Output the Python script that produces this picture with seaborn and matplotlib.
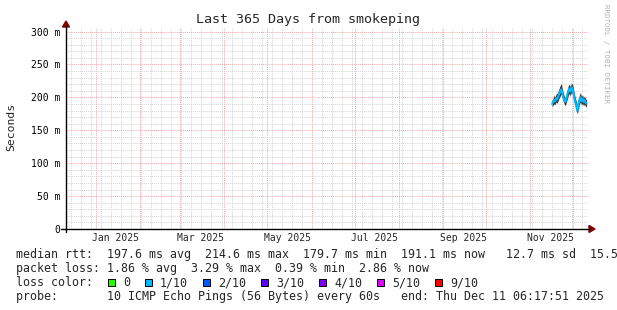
import numpy as np
import pandas as pd
import matplotlib
matplotlib.use("Agg")
import matplotlib.pyplot as plt
import matplotlib.dates as mdates
from matplotlib.lines import Line2D
from matplotlib.patches import Rectangle, Polygon
from matplotlib.ticker import FixedLocator, FuncFormatter, MultipleLocator
from matplotlib.transforms import blended_transform_factory
import seaborn as sns

# ---------------- data ----------------
title = "Last 365 Days from smokeping"
y_label = "Seconds"
watermark = "RRDTOOL / TOBI OETIKER"
range_start = "2024-12-11 06:17:51"
range_end = "2025-12-11 06:17:51"
data_start = "2025-11-16 04:00"
data_step = "17h"

median_ms = [190, 193, 196, 194, 199, 197, 201, 205, 209, 212, 206, 200, 196, 193, 198,
             204, 210, 213, 209, 215, 213, 207, 198, 192, 186, 180, 189, 197, 200, 194,
             198, 193, 196, 192, 191]
smoke_lo_ms = [185, 188, 190, 189, 193, 191, 195, 199, 202, 205, 200, 194, 190, 187, 192,
               197, 203, 206, 202, 208, 206, 200, 191, 185, 179, 175, 182, 190, 193, 188,
               191, 187, 190, 186, 186]
smoke_hi_ms = [196, 199, 203, 201, 205, 206, 209, 214, 218, 221, 214, 207, 202, 199, 205,
               211, 218, 220, 216, 222, 220, 214, 205, 199, 193, 188, 196, 204, 207, 201,
               204, 199, 202, 198, 196]

y_ticks_ms = [0, 50, 100, 150, 200, 250, 300]
x_label_months = ["2025-01-15", "2025-03-15", "2025-05-15", "2025-07-15", "2025-09-15", "2025-11-15"]
x_label_texts = ["Jan 2025", "Mar 2025", "May 2025", "Jul 2025", "Sep 2025", "Nov 2025"]

legend_median = "median rtt:  197.6 ms avg  214.6 ms max  179.7 ms min  191.1 ms now   12.7 ms sd  15.5"
legend_loss = "packet loss: 1.86 % avg  3.29 % max  0.39 % min  2.86 % now"
legend_color_title = "loss color:"
loss_labels = ["0", "1/10", "2/10", "3/10", "4/10", "5/10", "9/10"]
loss_colors = ["#26ff00", "#00b8ff", "#0059ff", "#5e00ff", "#7e00ff", "#dd00ff", "#ff0000"]
legend_probe = "probe:       10 ICMP Echo Pings (56 Bytes) every 60s   end: Thu Dec 11 06:17:51 2025"

median_color = loss_colors[1]

# ---------------- figure ----------------
W, H = 617, 310
sns.set_style("white")
plt.rcParams["font.family"] = ["DejaVu Sans Mono"]

fig = plt.figure(figsize=(W / 100, H / 100), dpi=100)
fig.patch.set_facecolor("white")


def fx(x):
    return x / W


def fy(y):
    return 1 - y / H


X0, X1 = 66, 588
Y0 = 229
YMAX = 0.306
Ytop = Y0 - YMAX / 0.3 * 197.5
ax = fig.add_axes([fx(X0), fy(Y0), (X1 - X0) / W, (Y0 - Ytop) / H])
ax.set_facecolor("white")

times = pd.date_range(data_start, periods=len(median_ms), freq=data_step)
df = pd.DataFrame({
    "time": times,
    "median": np.array(median_ms) / 1000.0,
    "lo": np.array(smoke_lo_ms) / 1000.0,
    "hi": np.array(smoke_hi_ms) / 1000.0,
})

ax.fill_between(df["time"], df["lo"], df["hi"], color="#3c3c3c", lw=0, zorder=3)
sns.lineplot(data=df, x="time", y="median", ax=ax, color=median_color, lw=1.5, zorder=4)

ax.set_xlim(pd.Timestamp(range_start), pd.Timestamp(range_end))
ax.set_ylim(0, YMAX)

# grid
ax.yaxis.set_major_locator(FixedLocator([v / 1000 for v in y_ticks_ms]))
ax.yaxis.set_minor_locator(MultipleLocator(0.01))
ax.yaxis.set_major_formatter(FuncFormatter(lambda v, p: "0" if v < 1e-9 else f"{int(round(v * 1000))} m"))

ax.xaxis.set_major_locator(mdates.MonthLocator())
ax.xaxis.set_minor_locator(mdates.WeekdayLocator(byweekday=mdates.SU))
ax.xaxis.set_major_formatter(FuncFormatter(lambda v, p: ""))

dot = (0, (1, 1))
ax.grid(True, which="minor", color="#d4d4d4", lw=0.7, ls=dot, zorder=0)
ax.grid(True, which="major", color="#f0a8a8", lw=0.7, ls=dot, zorder=1)
ax.set_axisbelow(True)

for s in ax.spines.values():
    s.set_visible(False)
ax.tick_params(axis="both", which="both", length=0)
ax.tick_params(axis="y", which="major", labelsize=7, pad=4, colors="black")
ax.set_xlabel("")
ax.set_ylabel("")

# x labels at mid-month
xt = blended_transform_factory(ax.transData, fig.transFigure)
for d, t in zip(x_label_months, x_label_texts):
    ax.text(mdates.date2num(pd.Timestamp(d)), fy(238), t, ha="center", va="center",
            fontsize=7, transform=xt, clip_on=False)

# axis lines with arrows
arrow_c = "#7f0000"
fig.add_artist(Line2D([fx(61), fx(589)], [fy(Y0), fy(Y0)], color="black", lw=1.0))
fig.add_artist(Line2D([fx(X0), fx(X0)], [fy(232), fy(26)], color="black", lw=1.0))
fig.add_artist(Polygon([[fx(589), fy(Y0 - 3.5)], [fx(589), fy(Y0 + 3.5)], [fx(595), fy(Y0)]],
                       closed=True, color=arrow_c, transform=fig.transFigure))
fig.add_artist(Polygon([[fx(X0 - 3.5), fy(27)], [fx(X0 + 3.5), fy(27)], [fx(X0), fy(21)]],
                       closed=True, color=arrow_c, transform=fig.transFigure))

# title / labels
fig.text(fx(308), fy(19), title, ha="center", va="center", fontsize=9.6)
fig.text(fx(11), fy(127), y_label, ha="center", va="center", rotation=90, fontsize=8.2)
fig.text(fx(606), fy(4), watermark, ha="center", va="top", rotation=270, fontsize=5.3, color="#b4b4b4")

# legend
LFS = 8.35
CW = 7.0
LX = 16.5
fig.text(fx(LX), fy(254.5), legend_median, ha="left", va="center", fontsize=LFS)
fig.text(fx(LX), fy(268.5), legend_loss, ha="left", va="center", fontsize=LFS)
fig.text(fx(LX), fy(282.5), legend_color_title, ha="left", va="center", fontsize=LFS)
fig.text(fx(LX), fy(296.5), legend_probe, ha="left", va="center", fontsize=LFS)

bx = 108.0
for lab, col in zip(loss_labels, loss_colors):
    fig.add_artist(Rectangle((fx(bx), fy(286)), 7 / W, 7 / H, facecolor=col,
                             edgecolor="black", lw=0.7, transform=fig.transFigure))
    tx = bx + 15
    fig.text(fx(tx), fy(282.5), lab, ha="left", va="center", fontsize=LFS)
    bx = tx + len(lab) * CW + 15

fig.savefig("out.png", dpi=100)
